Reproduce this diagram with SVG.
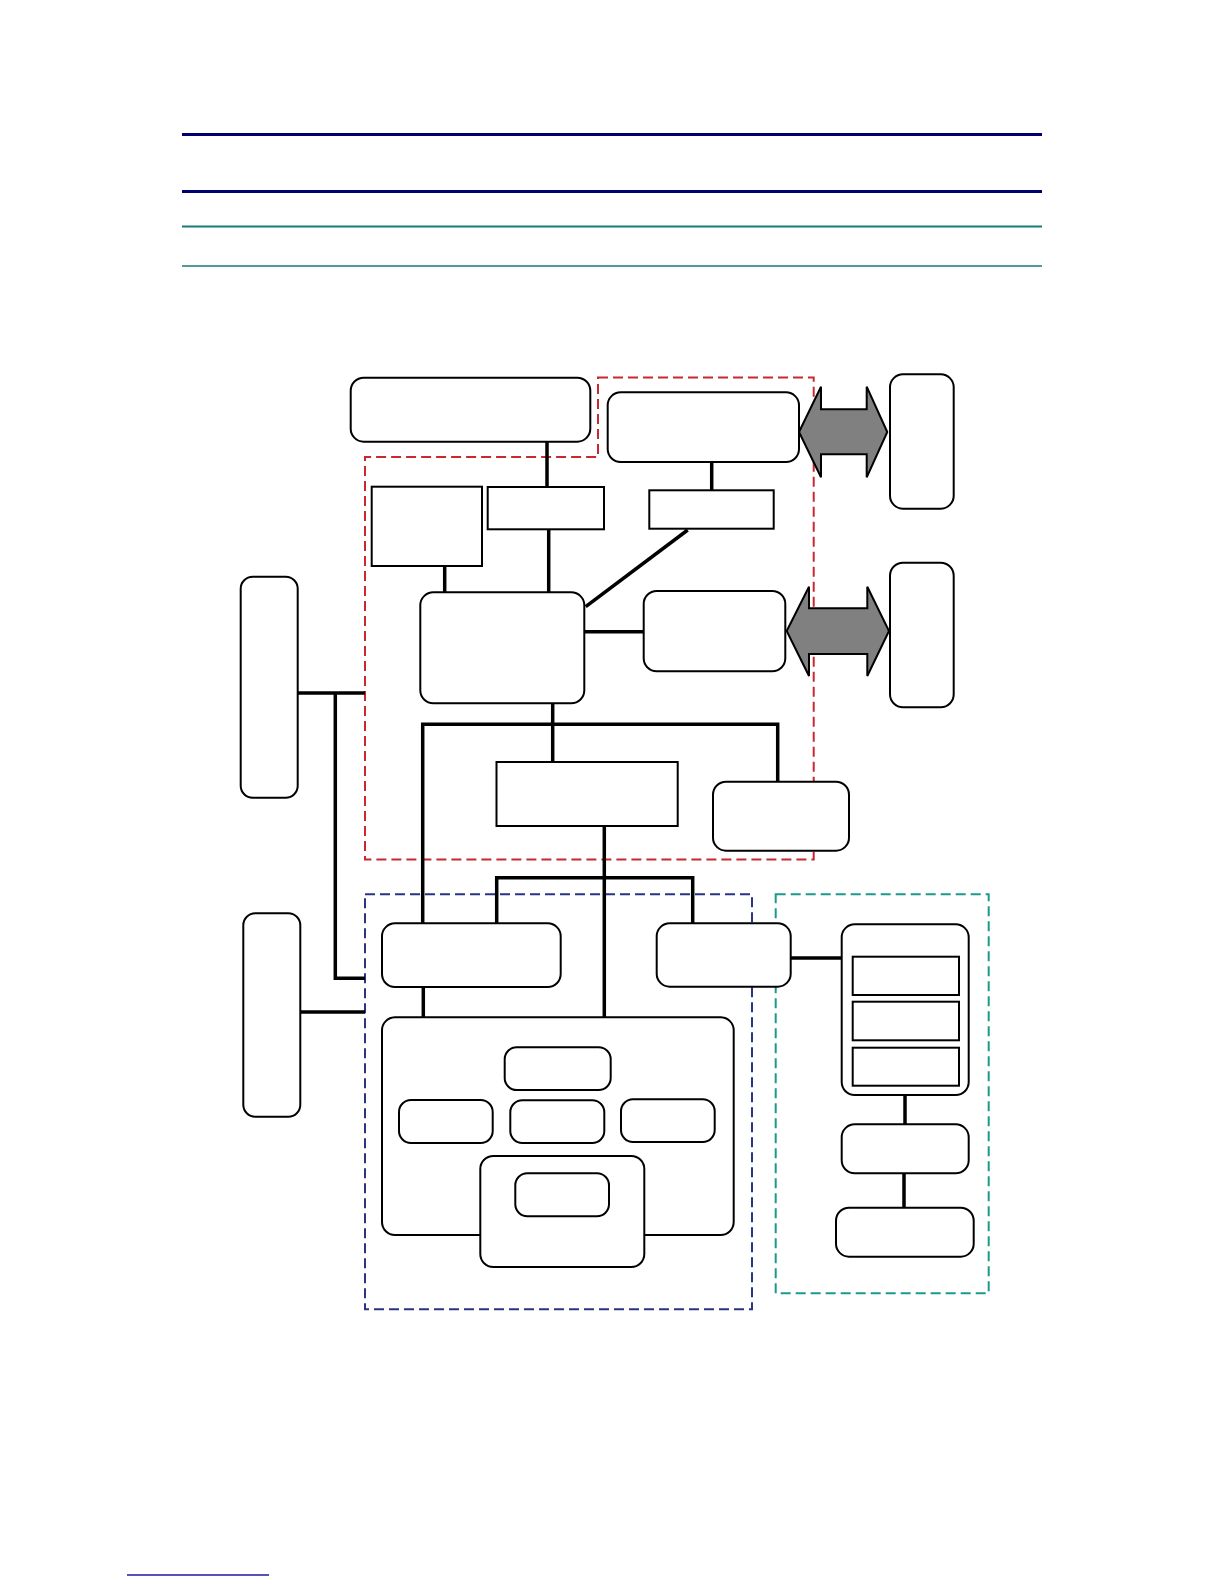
<svg xmlns="http://www.w3.org/2000/svg" width="1224" height="1584" viewBox="0 0 1224 1584">
<style>
.bx{fill:#fff;stroke:#000;stroke-width:2}
.rc{fill:#fff;stroke:#000;stroke-width:2}
.ln{fill:none;stroke:#000;stroke-width:3.5;stroke-linecap:butt}
.ar{fill:#808080;stroke:#000;stroke-width:2;stroke-linejoin:miter}
.grp{fill:none;stroke-width:2;stroke-dasharray:10 5}
</style>
<rect width="1224" height="1584" fill="#fff"/>
<g id="header">
<line x1="182" y1="134.5" x2="1042" y2="134.5" stroke="#000070" stroke-width="3"/>
<line x1="182" y1="191.5" x2="1042" y2="191.5" stroke="#000070" stroke-width="3"/>
<line x1="182" y1="226.5" x2="1042" y2="226.5" stroke="#167a78" stroke-width="2"/>
<line x1="182" y1="266" x2="1042" y2="266" stroke="#167a78" stroke-width="1.5"/>
<line x1="127" y1="1575" x2="269" y2="1575" stroke="#1a1aa0" stroke-width="1.5"/>
</g>
<g id="groups">
<path id="group-red" class="grp" stroke="#c8282e" d="M598,377.5 H813.7 V859.5 H365 V457 H598 Z"/>
<rect id="group-blue" class="grp" stroke="#2a3580" stroke-width="1.6" x="365" y="894.3" width="387" height="415"/>
<rect id="group-teal" class="grp" stroke="#1a9a8a" x="775.7" y="894.3" width="213" height="399"/>
</g>
<g id="connectors">
<line class="ln" x1="547" y1="441" x2="547" y2="487"/>
<line class="ln" x1="711.7" y1="462" x2="711.7" y2="490"/>
<line class="ln" x1="548.7" y1="529" x2="548.7" y2="592"/>
<line class="ln" x1="444.7" y1="566" x2="444.7" y2="592"/>
<line class="ln" x1="687.7" y1="530" x2="585.7" y2="606.7"/>
<line class="ln" x1="584" y1="631.7" x2="644" y2="631.7"/>
<line class="ln" x1="552.7" y1="703" x2="552.7" y2="762"/>
<polyline class="ln" points="422.7,923 422.7,724.3 777.7,724.3 777.7,782"/>
<line class="ln" x1="423.3" y1="987" x2="423.3" y2="1017"/>
<line class="ln" x1="604.3" y1="826" x2="604.3" y2="1017"/>
<polyline class="ln" points="496.7,923 496.7,877.7 692.7,877.7 692.7,923"/>
<polyline class="ln" points="297.7,693 365,693"/>
<polyline class="ln" points="335.3,693 335.3,978.3 365,978.3"/>
<line class="ln" stroke-width="3" x1="300" y1="1012" x2="365" y2="1012"/>
<line class="ln" x1="790.7" y1="958" x2="841.7" y2="958"/>
<line class="ln" x1="905" y1="1095" x2="905" y2="1124.3"/>
<line class="ln" x1="904" y1="1173.3" x2="904" y2="1207.7"/>
</g>
<g id="arrows">
<polygon id="arrow-top" class="ar" points="799,432 821,386.7 821,409.3 866.7,409.3 866.7,386.7 887.3,432 866.7,477.3 866.7,454.3 821,454.3 821,477.3"/>
<polygon id="arrow-bottom" class="ar" points="786.7,631 809,586.7 809,608.3 867.3,608.3 867.3,586.7 889,631 867.3,676 867.3,654 809,654 809,676"/>
</g>
<g id="node-topleft"><rect class="bx" x="350.7" y="377.7" width="239.6" height="64" rx="13"/></g>
<g id="node-topright"><rect class="bx" x="607.7" y="392.3" width="191.3" height="69.7" rx="13"/></g>
<g id="node-square"><rect class="rc" x="371.7" y="486.7" width="110.3" height="79.3"/></g>
<g id="node-midrect"><rect class="rc" x="487.7" y="487" width="116.3" height="42.3"/></g>
<g id="node-smallrect"><rect class="rc" x="649.3" y="490.3" width="124.4" height="38.4"/></g>
<g id="node-center"><rect class="bx" x="420.3" y="592.3" width="164" height="111" rx="13"/></g>
<g id="node-rightbox"><rect class="bx" x="643.7" y="591" width="141.6" height="80.3" rx="13"/></g>
<g id="node-ext-top"><rect class="bx" x="890" y="374.3" width="63.7" height="134.4" rx="13"/></g>
<g id="node-ext-bottom"><rect class="bx" x="890" y="562.7" width="63.7" height="144.6" rx="13"/></g>
<g id="node-left-top"><rect class="bx" x="240.7" y="576.7" width="57" height="221" rx="12"/></g>
<g id="node-left-bottom"><rect class="bx" x="243.3" y="913.3" width="57" height="203.4" rx="12"/></g>
<g id="node-belowcenter"><rect class="rc" x="496.5" y="762" width="181.2" height="64"/></g>
<g id="node-br"><rect class="bx" x="713" y="781.7" width="136" height="69" rx="13"/></g>
<g id="node-blue-left"><rect class="bx" x="382" y="923.3" width="178.7" height="63.7" rx="13"/></g>
<g id="node-blue-right"><rect class="bx" x="656.7" y="923.3" width="134" height="63.4" rx="13"/></g>
<g id="node-bigbox">
<rect class="bx" x="382" y="1017.3" width="351.7" height="217.7" rx="13"/>
<rect class="bx" x="504.7" y="1047.3" width="106" height="42.7" rx="12"/>
<rect class="bx" x="399" y="1100" width="93.7" height="43" rx="12"/>
<rect class="bx" x="510.3" y="1100.3" width="94" height="42.7" rx="12"/>
<rect class="bx" x="621" y="1099.3" width="93.7" height="42.7" rx="12"/>
<rect class="bx" x="480.3" y="1156" width="164" height="111" rx="13"/>
<rect class="bx" x="515.3" y="1173.3" width="93.7" height="43" rx="12"/>
</g>
<g id="node-teal-stack">
<rect class="bx" x="841.7" y="924.3" width="127" height="170.7" rx="13"/>
<rect class="rc" stroke-width="2.5" x="852.7" y="956.7" width="106.3" height="38.3"/>
<rect class="rc" stroke-width="2.5" x="852.7" y="1001.7" width="106.3" height="38.6"/>
<rect class="rc" stroke-width="2.5" x="852.7" y="1047.7" width="106.3" height="38"/>
</g>
<g id="node-teal-mid"><rect class="bx" x="841.7" y="1124.3" width="127" height="49" rx="13"/></g>
<g id="node-teal-bottom"><rect class="bx" x="836" y="1207.7" width="137.7" height="49" rx="13"/></g>
</svg>
